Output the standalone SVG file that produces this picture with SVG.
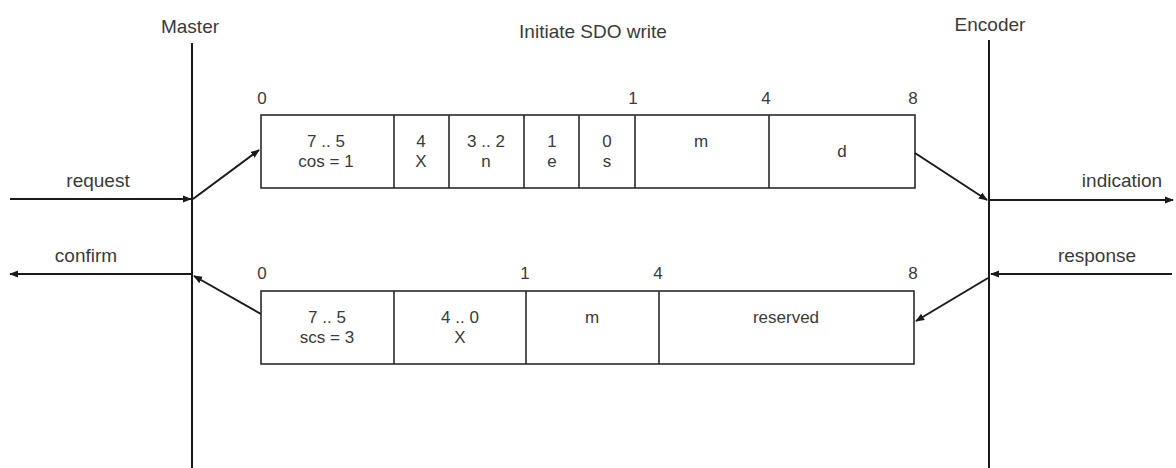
<svg xmlns="http://www.w3.org/2000/svg" width="1176" height="468" viewBox="0 0 1176 468">
<defs>
<style>
text{font-family:"Liberation Sans",Arial,sans-serif;font-size:17px;fill:#3a3a3a;text-anchor:middle}
text.lb{font-size:19px}
.ln{stroke:#1a1a1a;stroke-width:2;fill:none}
.bx{stroke:#2a2a2a;stroke-width:1.6;fill:#fff}
.dv{stroke:#2a2a2a;stroke-width:1.6}
</style>
<marker id="ah" viewBox="0 0 10 10" refX="9" refY="5" markerWidth="9" markerHeight="9" markerUnits="userSpaceOnUse" orient="auto">
<path d="M0,1 L10,5 L0,9 z" fill="#1a1a1a"/>
</marker>
</defs>
<rect width="1176" height="468" fill="#fff"/>
<g id="master">
<line class="ln" x1="192" y1="43" x2="192" y2="468"/>
<text class="lb" x="190" y="33">Master</text>
</g>
<g id="encoder">
<line class="ln" x1="989" y1="40" x2="989" y2="468"/>
<text class="lb" x="990" y="31">Encoder</text>
</g>
<g id="title">
<text class="lb" x="593" y="38">Initiate SDO write</text>
</g>
<g id="request-frame">
<rect class="bx" x="261" y="115" width="654" height="73"/>
<line class="dv" x1="394" y1="115" x2="394" y2="188"/>
<line class="dv" x1="449" y1="115" x2="449" y2="188"/>
<line class="dv" x1="524" y1="115" x2="524" y2="188"/>
<line class="dv" x1="579" y1="115" x2="579" y2="188"/>
<line class="dv" x1="635" y1="115" x2="635" y2="188"/>
<line class="dv" x1="769" y1="115" x2="769" y2="188"/>
<text x="262" y="104">0</text>
<text x="633" y="104">1</text>
<text x="766" y="104">4</text>
<text x="913" y="104">8</text>
<text x="326" y="147">7 .. 5</text>
<text x="326" y="167">cos = 1</text>
<text x="421" y="147">4</text>
<text x="421" y="167">X</text>
<text x="486" y="147">3 .. 2</text>
<text x="486" y="167">n</text>
<text x="552" y="147">1</text>
<text x="552" y="167">e</text>
<text x="607" y="147">0</text>
<text x="607" y="167">s</text>
<text x="701" y="147">m</text>
<text x="842" y="157">d</text>
</g>
<g id="response-frame">
<rect class="bx" x="261" y="291" width="653" height="73"/>
<line class="dv" x1="394" y1="291" x2="394" y2="364"/>
<line class="dv" x1="526" y1="291" x2="526" y2="364"/>
<line class="dv" x1="659" y1="291" x2="659" y2="364"/>
<text x="262" y="279">0</text>
<text x="525" y="279">1</text>
<text x="658" y="279">4</text>
<text x="913" y="279">8</text>
<text x="327" y="323">7 .. 5</text>
<text x="327" y="343">scs = 3</text>
<text x="460" y="323">4 .. 0</text>
<text x="460" y="343">X</text>
<text x="592" y="323">m</text>
<text x="786" y="323">reserved</text>
</g>
<g id="labels">
<text class="lb" x="98" y="187">request</text>
<text class="lb" x="1122" y="187">indication</text>
<text class="lb" x="86" y="262">confirm</text>
<text class="lb" x="1097" y="262">response</text>
</g>
<g id="connectors">
<line class="ln" x1="10" y1="199" x2="191" y2="199" marker-end="url(#ah)"/>
<line class="ln" x1="193" y1="199" x2="259" y2="150" marker-end="url(#ah)"/>
<line class="ln" x1="915" y1="153" x2="987" y2="200" marker-end="url(#ah)"/>
<line class="ln" x1="989" y1="200" x2="1173" y2="200" marker-end="url(#ah)"/>
<line class="ln" x1="192" y1="274" x2="10" y2="274" marker-end="url(#ah)"/>
<line class="ln" x1="261" y1="314" x2="194" y2="276" marker-end="url(#ah)"/>
<line class="ln" x1="1172" y1="274" x2="991" y2="274" marker-end="url(#ah)"/>
<line class="ln" x1="988" y1="278" x2="916" y2="321" marker-end="url(#ah)"/>
</g>
</svg>
